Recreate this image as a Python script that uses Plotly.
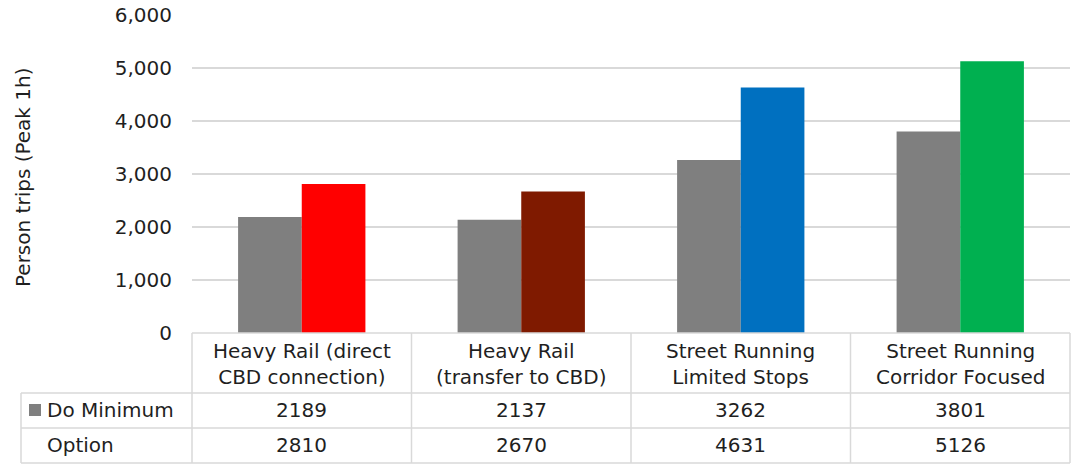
import plotly.graph_objects as go

categories = ["Heavy Rail (direct<br>CBD connection)", "Heavy Rail<br>(transfer to CBD)",
              "Street Running<br>Limited Stops", "Street Running<br>Corridor Focused"]
do_minimum = [2189, 2137, 3262, 3801]
option = [2810, 2670, 4631, 5126]
option_colors = ["#ff0000", "#7f1a00", "#0070c0", "#00b050"]
y_ticks = [0, 1000, 2000, 3000, 4000, 5000, 6000]

W, H = 1071, 464
FONT = "DejaVu Sans"
TXT = "#1f1f1f"
GRID = "#d9d9d9"
FS = 20

def px(x):
    return x / W

def py(y):
    return (H - y) / H

x_left, x_right = 192, 1070
y_top, y_bottom = 15, 333

fig = go.Figure()
fig.add_trace(go.Bar(x=categories, y=do_minimum, name="Do Minimum",
                     marker=dict(color="#7f7f7f", line=dict(width=0))))
fig.add_trace(go.Bar(x=categories, y=option, name="Option",
                     marker=dict(color=option_colors, line=dict(width=0))))

shapes = []
def line(x0, y0, x1, y1):
    shapes.append(dict(type="line", xref="paper", yref="paper",
                       x0=px(x0), y0=py(y0), x1=px(x1), y1=py(y1),
                       line=dict(color=GRID, width=1.5)))

# table horizontal lines
line(x_left, y_bottom, x_right, y_bottom)
for yy in (393, 428, 463):
    line(21, yy, x_right, yy)
# table vertical lines
line(21, 393, 21, 463)
n = len(categories)
for i in range(n + 1):
    xx = x_left + (x_right - x_left) * i / n
    line(xx, y_bottom, xx, 463)

# legend key square
shapes.append(dict(type="rect", xref="paper", yref="paper",
                   x0=px(29), x1=px(41), y0=py(416), y1=py(404),
                   fillcolor="#7f7f7f", line=dict(width=0)))

annotations = []
for i, cat in enumerate(categories):
    annotations.append(dict(x=cat, xref="x", y=py(364), yref="paper", text=cat,
                            showarrow=False, font=dict(size=FS, color=TXT, family=FONT),
                            xanchor="center", yanchor="middle"))
    annotations.append(dict(x=cat, xref="x", y=py(410), yref="paper", text=str(do_minimum[i]),
                            showarrow=False, font=dict(size=FS, color=TXT, family=FONT),
                            xanchor="center", yanchor="middle"))
    annotations.append(dict(x=cat, xref="x", y=py(445), yref="paper", text=str(option[i]),
                            showarrow=False, font=dict(size=FS, color=TXT, family=FONT),
                            xanchor="center", yanchor="middle"))

annotations.append(dict(x=px(45), xref="paper", y=py(410), yref="paper", text="Do Minimum",
                        showarrow=False, font=dict(size=FS, color=TXT, family=FONT),
                        xanchor="left", yanchor="middle"))
annotations.append(dict(x=px(45), xref="paper", y=py(445), yref="paper", text="Option",
                        showarrow=False, font=dict(size=FS, color=TXT, family=FONT),
                        xanchor="left", yanchor="middle"))
annotations.append(dict(x=px(23), xref="paper", y=py(177), yref="paper",
                        text="Person trips (Peak 1h)", textangle=-90,
                        showarrow=False, font=dict(size=20, color=TXT, family=FONT),
                        xanchor="center", yanchor="middle"))

fig.update_layout(
    width=W, height=H,
    margin=dict(l=0, r=0, t=0, b=0, autoexpand=False),
    paper_bgcolor="white", plot_bgcolor="white",
    showlegend=False,
    barmode="group", bargap=0.42, bargroupgap=0,
    font=dict(family=FONT, color=TXT),
    xaxis=dict(domain=[px(x_left), px(x_right)], showticklabels=False, automargin=False,
               showgrid=False, zeroline=False, showline=False, ticks=""),
    yaxis=dict(domain=[py(y_bottom), py(y_top)], range=[0, 6000], automargin=False,
               tickvals=y_ticks, tickformat=",d", showgrid=True,
               gridcolor=GRID, gridwidth=1.5, zeroline=False, showline=False,
               ticks="", ticklabelstandoff=19,
               tickfont=dict(size=FS, color=TXT, family=FONT)),
    shapes=shapes,
    annotations=annotations,
)

fig.write_html("out.html")
